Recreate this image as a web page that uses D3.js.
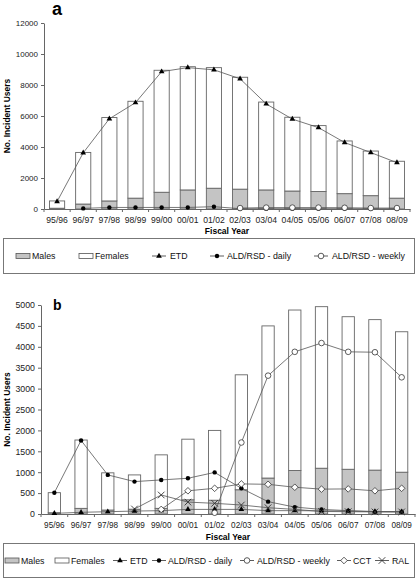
<!DOCTYPE html>
<html><head><meta charset="utf-8">
<script src="https://cdn.jsdelivr.net/npm/d3@7"></script>
<style>
body{margin:0;background:#fff;}
svg{display:block;font-family:"Liberation Sans",Arial,Helvetica,sans-serif;}
</style></head>
<body><svg id="c" width="416" height="580"></svg>
<script>
const years = ["95/96","96/97","97/98","98/99","99/00","00/01","01/02","02/03","03/04","04/05","05/06","06/07","07/08","08/09"];

// Panel a
const aMales   = [50, 320, 520, 700, 1080, 1230, 1340, 1280, 1230, 1160, 1130, 990, 860, 700];
const aFemales = [470, 3330, 5380, 6250, 7870, 7950, 7780, 7220, 5670, 4760, 4250, 3400, 2880, 2380];
const aETD     = [480, 3620, 5820, 6860, 8860, 9120, 8980, 8400, 6780, 5800, 5250, 4290, 3640, 2990];
const aDaily   = [null, 40, 100, 100, 100, 100, 150, 20, 20, 20, 20, 20, 20, 20];
const aWeekly  = [null, null, null, null, null, null, null, 60, 90, 90, 90, 80, 60, 60];
const aYTicks  = [0, 2000, 4000, 6000, 8000, 10000, 12000];

// Panel b
const bMales   = [30, 135, 95, 115, 135, 340, 330, 580, 860, 1040, 1095, 1070, 1050, 1000];
const bFemales = [480, 1635, 890, 820, 1280, 1450, 1670, 2750, 3640, 3840, 3865, 3650, 3600, 3360];
const bETD     = [15, 40, 55, 70, 80, 110, 110, 110, 80, 80, 75, 70, 60, 55];
const bDaily   = [510, 1760, 935, 775, 815, 855, 995, 615, 295, 165, 110, 80, 55, 55];
const bWeekly  = [null, null, null, null, null, null, 30, 1710, 3310, 3880, 4090, 3880, 3870, 3270];
const bCCT     = [null, null, null, null, 110, 555, 615, 720, 710, 640, 595, 600, 555, 615];
const bRAL     = [null, null, null, 120, 455, 285, 255, 215, 150, 110, 60, 55, 50, 50];
const bYTicks  = [0, 500, 1000, 1500, 2000, 2500, 3000, 3500, 4000, 4500, 5000];

const svg = d3.select("#c");
svg.append("rect").attr("width",416).attr("height",580).attr("fill","#fff");

const AX = "#666", LN = "#555", MALE = "#c4c4c4";

function sym(g, type, x, y){
  if(type==="tri") g.append("path").attr("d", d3.symbol(d3.symbolTriangle, 14)()).attr("transform",`translate(${x},${y})`).attr("fill","#000");
  else if(type==="dot") g.append("circle").attr("cx",x).attr("cy",y).attr("r",2.2).attr("fill","#000");
  else if(type==="circ") g.append("circle").attr("cx",x).attr("cy",y).attr("r",2.8).attr("fill","#fff").attr("stroke","#333").attr("stroke-width",0.8);
  else if(type==="dia") g.append("path").attr("d",`M${x},${y-3.3}L${x+3.3},${y}L${x},${y+3.3}L${x-3.3},${y}Z`).attr("fill","#fff").attr("stroke","#333").attr("stroke-width",0.8);
  else if(type==="x") g.append("path").attr("d",`M${x-3.3},${y-3.3}L${x+3.3},${y+3.3}M${x-3.3},${y+3.3}L${x+3.3},${y-3.3}`).attr("stroke","#333").attr("stroke-width",0.9);
}

function panel(o){
  const g = svg.append("g");
  const x = d3.scaleBand().domain(years).range([o.x0, o.x1]).paddingInner(o.pad).paddingOuter(o.pad/2);
  const y = d3.scaleLinear().domain([0, o.ymax]).range([o.y0, o.ytop]);
  const table = years.map((yr,i)=>({year:yr, males:o.males[i], females:o.females[i]}));
  const stack = d3.stack().keys(["males","females"])(table);
  stack.forEach((s,k)=>{
    g.selectAll(null).data(s).join("rect")
      .attr("x", d=>x(d.data.year)).attr("width", x.bandwidth())
      .attr("y", d=>y(d[1])).attr("height", d=>y(d[0])-y(d[1]))
      .attr("fill", k===0?MALE:"#fff").attr("stroke","#666").attr("stroke-width",0.9);
  });
  const ya = d3.axisLeft(y).tickValues(o.yticks).tickSize(3).tickSizeOuter(0).tickFormat(d3.format("d"));
  const yg = g.append("g").attr("transform",`translate(${o.x0},0)`).call(ya);
  yg.select(".domain").attr("stroke",AX);
  yg.selectAll(".tick line").attr("stroke",AX);
  yg.selectAll("text").attr("font-size",o.yfs).attr("fill","#222").attr("x",-6).attr("font-family","inherit");
  const xa = d3.axisBottom(x).tickSize(0).tickSizeOuter(0);
  const xg = g.append("g").attr("transform",`translate(0,${o.y0})`).call(xa);
  xg.select(".domain").attr("stroke",AX);
  xg.selectAll("text").attr("font-size",o.xfs).attr("fill","#222").attr("dy","0.71em").attr("y",8).attr("font-family","inherit");
  const step = x.step();
  const bounds = d3.range(years.length+1).map(i=>o.x0 + i*step);
  g.selectAll(null).data(bounds).join("line")
    .attr("x1",d=>d).attr("x2",d=>d).attr("y1",o.y0).attr("y2",o.y0+3).attr("stroke",AX);
  const cx = yr => x(yr)+x.bandwidth()/2;
  o.series.forEach(s=>{
    const pts = years.map((yr,i)=>({yr, v:s.vals[i]})).filter(d=>d.v!=null);
    g.append("path").datum(pts)
      .attr("d", d3.line().x(d=>cx(d.yr)).y(d=>y(d.v)))
      .attr("fill","none").attr("stroke",LN).attr("stroke-width",0.8);
  });
  o.series.forEach(s=>{
    years.forEach((yr,i)=>{ if(s.vals[i]!=null) sym(g, s.type, cx(yr), y(s.vals[i])); });
  });
  g.append("text").attr("x",o.tx).attr("y",o.ty).attr("font-size",o.tfs).attr("font-weight","bold").text(o.title);
  g.append("text").attr("transform",`translate(${o.ylx},${(o.y0+o.ytop)/2}) rotate(-90)`)
    .attr("text-anchor","middle").attr("font-size",8.5).attr("font-weight","bold").text("No. Incident Users");
  g.append("text").attr("x",(o.x0+o.x1)/2).attr("y",o.fy).attr("text-anchor","middle")
    .attr("font-size",8.5).attr("font-weight","bold").text("Fiscal Year");
  const L = svg.append("g");
  L.append("rect").attr("x",3.5).attr("y",o.ly).attr("width",411).attr("height",o.lh).attr("fill","none").attr("stroke","#777");
  const cy = o.ly + o.lh/2;
  o.legend.forEach(it=>{
    if(it.type==="box"){
      L.append("rect").attr("x",it.x).attr("y",cy-2.5).attr("width",14).attr("height",5).attr("fill",it.fill).attr("stroke","#555").attr("stroke-width",0.8);
    } else {
      L.append("line").attr("x1",it.x).attr("x2",it.x+14).attr("y1",cy).attr("y2",cy).attr("stroke","#333").attr("stroke-width",0.8);
      sym(L, it.type, it.x+7, cy);
    }
    L.append("text").attr("x",it.tx).attr("y",cy+3.2).attr("font-size",o.lfs).attr("fill","#111").text(it.label);
  });
}

panel({
  x0:44, x1:410, pad:0.42, y0:209, ytop:23, ymax:12000, yticks:aYTicks, yfs:8, xfs:8.6,
  males:aMales, females:aFemales,
  series:[{vals:aETD,type:"tri"},{vals:aDaily,type:"dot"},{vals:aWeekly,type:"circ"}],
  title:"a", tx:52, ty:15, tfs:18, ylx:10, fy:234,
  ly:238.5, lh:35, lfs:8.8,
  legend:[
    {type:"box",fill:MALE,x:16,tx:32,label:"Males"},
    {type:"box",fill:"#fff",x:79,tx:95,label:"Females"},
    {type:"tri",x:152,tx:170,label:"ETD"},
    {type:"dot",x:210,tx:227,label:"ALD/RSD - daily"},
    {type:"circ",x:314,tx:332,label:"ALD/RSD - weekly"}
  ]
});

panel({
  x0:41, x1:415, pad:0.54, y0:514, ytop:305, ymax:5000, yticks:bYTicks, yfs:8.8, xfs:8.2,
  males:bMales, females:bFemales,
  series:[{vals:bETD,type:"tri"},{vals:bDaily,type:"dot"},{vals:bWeekly,type:"circ"},{vals:bCCT,type:"dia"},{vals:bRAL,type:"x"}],
  title:"b", tx:53, ty:310, tfs:14, ylx:10, fy:540,
  ly:543.5, lh:34, lfs:8.8,
  legend:[
    {type:"box",fill:MALE,x:5,tx:21,label:"Males"},
    {type:"box",fill:"#fff",x:55,tx:71,label:"Females"},
    {type:"tri",x:113,tx:130,label:"ETD"},
    {type:"dot",x:152,tx:168,label:"ALD/RSD - daily"},
    {type:"circ",x:240,tx:257,label:"ALD/RSD - weekly"},
    {type:"dia",x:337,tx:353,label:"CCT"},
    {type:"x",x:375,tx:392,label:"RAL"}
  ]
});
</script></body></html>
